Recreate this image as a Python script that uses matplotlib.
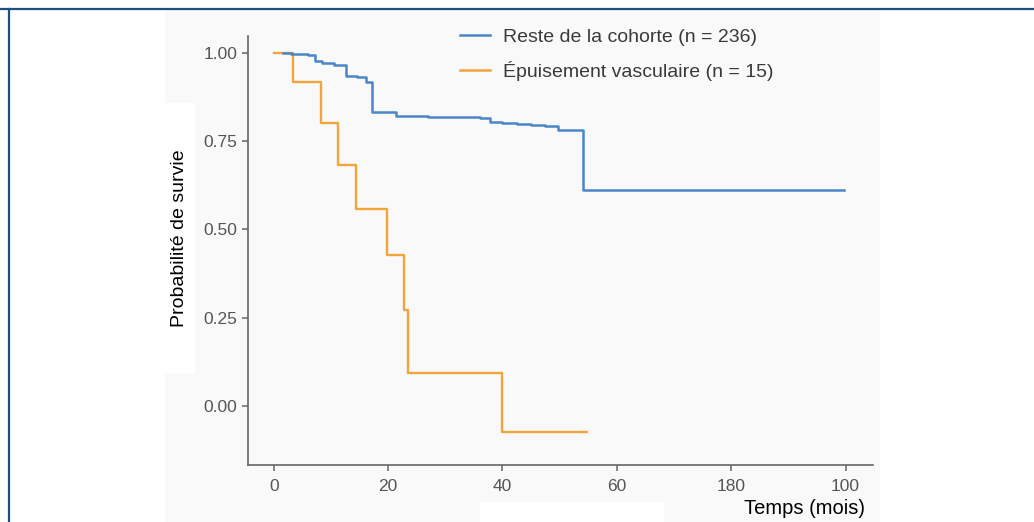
import matplotlib
matplotlib.use("Agg")
import matplotlib.pyplot as plt
from matplotlib.patches import Rectangle
from matplotlib.lines import Line2D

plt.rcParams['font.family'] = ['Liberation Sans', 'DejaVu Sans']

# Kaplan-Meier steps (time in months, survival)
blue_t = [1.6, 3.0, 4.5, 6.0, 7.3, 8.5, 10.5, 12.6, 14.5, 16.1, 17.2, 21.3,
          24.0, 27.0, 30.0, 33.0, 36.0, 37.8, 40.0, 42.5, 45.0, 47.5, 49.7, 54.0, 99.8]
blue_s = [1.0, 0.998, 0.996, 0.994, 0.978, 0.971, 0.966, 0.935, 0.931, 0.919, 0.832, 0.822,
          0.821, 0.820, 0.819, 0.818, 0.816, 0.805, 0.803, 0.800, 0.797, 0.794, 0.782, 0.611, 0.611]

orange_t = [0, 3.3, 8.3, 11.2, 14.3, 19.8, 22.7, 23.4, 39.9, 54.7]
orange_s = [1.0, 0.919, 0.802, 0.683, 0.557, 0.428, 0.272, 0.093, -0.074, -0.074]

labels = ["Reste de la cohorte (n = 236)", "Épuisement vasculaire (n = 15)"]
colors = ["#4a86c8", "#f2a53a"]

x_ticks = [0, 20, 40, 60, 80, 100]
x_ticklabels = ["0", "20", "40", "60", "180", "100"]
y_ticks = [0.0, 0.25, 0.5, 0.75, 1.0]
y_ticklabels = ["0.00", "0.25", "0.50", "0.75", "1.00"]

W, H = 1034, 522
fig = plt.figure(figsize=(W / 100, H / 100), dpi=100)
fig.patch.set_facecolor("white")

def px_rect(x0, y0, x1, y1, color, z):
    # rectangle given in pixel coords from top-left
    fig.patches.append(Rectangle((x0 / W, 1 - y1 / H), (x1 - x0) / W, (y1 - y0) / H,
                                 transform=fig.transFigure, facecolor=color,
                                 edgecolor="none", zorder=z))

# grey panel and the white patches on it
px_rect(165, 10, 880, 522, "#f9f9f9", -3)
px_rect(165, 103, 195, 373, "white", -2)
px_rect(480, 502, 664, 522, "white", -2)

# frame lines at top and left
fig.add_artist(Line2D([0, 1], [1 - 9 / H, 1 - 9 / H], transform=fig.transFigure,
                      color="#1f4e7e", lw=1.6))
fig.add_artist(Line2D([9 / W, 9 / W], [0, 1 - 9 / H], transform=fig.transFigure,
                      color="#1f4e7e", lw=1.6))

ax = fig.add_axes([248 / W, 57 / H, (873 - 248) / W, (465 - 36) / H])
ax.set_facecolor("none")
ax.set_zorder(2)

ax.step(orange_t, orange_s, where="post", color=colors[1], lw=1.7, label=labels[1])
ax.step(blue_t, blue_s, where="post", color=colors[0], lw=1.8, label=labels[0])

ax.set_xlim(-4.5, 104.8)
ax.set_ylim(-0.167, 1.048)
ax.set_xticks(x_ticks)
ax.set_xticklabels(x_ticklabels)
ax.set_yticks(y_ticks)
ax.set_yticklabels(y_ticklabels)

for side in ["top", "right"]:
    ax.spines[side].set_visible(False)
for side in ["left", "bottom"]:
    ax.spines[side].set_color("#666666")
    ax.spines[side].set_linewidth(1.2)
ax.tick_params(colors="#666666", labelcolor="#555555", labelsize=12.5, length=4, width=1.1)
ax.tick_params(axis="x", pad=6)

fig.text(180 / W, 1 - 238 / H, "Probabilité de survie", rotation=90, ha="center",
         va="center", fontsize=14, color="black")
fig.text(865 / W, 1 - 509 / H, "Temps (mois)", ha="right", va="center",
         fontsize=14.5, color="black")

h = [Line2D([], [], color=colors[0], lw=1.8), Line2D([], [], color=colors[1], lw=1.8)]
fig.legend(h, labels, loc="upper left", bbox_to_anchor=(460 / W, 1 - 28 / H),
           frameon=False, fontsize=14, handlelength=1.55, handletextpad=0.65,
           labelspacing=0.8, borderpad=0, borderaxespad=0, labelcolor="#3a3a3a")

fig.savefig("out.png", dpi=100)
